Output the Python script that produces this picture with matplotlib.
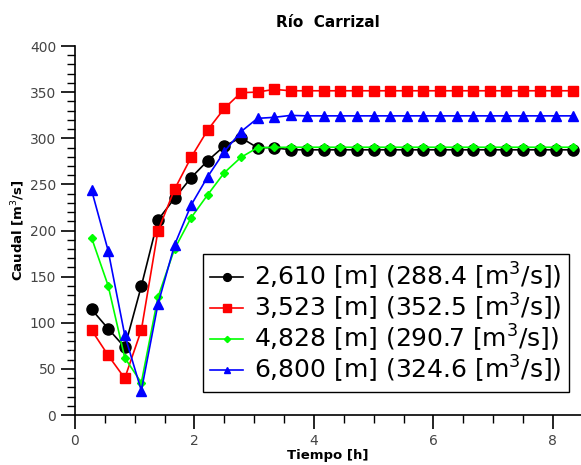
import numpy as np
import matplotlib
matplotlib.use("Agg")
import matplotlib.pyplot as plt
from matplotlib.ticker import MultipleLocator

# time steps of 1000 s, expressed in hours
steps = np.arange(1, 31)
t_hours = steps * 1000 / 3600.0

q_2610 = [114.6, 93.6, 73.4, 139.8, 211.4, 234.9, 257.3, 275.7, 291.6, 300.6,
          289.8, 289.8] + [287.5] * 18
q_3523 = [92.1, 64.7, 39.8, 92.1, 199.5, 244.6, 279.3, 309.0, 332.4, 349.4,
          350.1, 353.0] + [351.5] * 18
q_4828 = [192.2, 140.2, 62.1, 35.0, 127.6, 180.0, 213.9, 238.8, 262.7, 279.3,
          289.8, 290.1] + [290.3] * 18
q_6800 = [243.9, 178.2, 86.7, 26.4, 120.0, 184.3, 227.6, 258.4, 285.5, 307.1,
          321.6, 322.7, 324.8] + [324.3] * 17

labels = ["2,610 [m] (288.4 [m$^3$/s])",
          "3,523 [m] (352.5 [m$^3$/s])",
          "4,828 [m] (290.7 [m$^3$/s])",
          "6,800 [m] (324.6 [m$^3$/s])"]

fig = plt.figure(figsize=(5.81, 4.65), dpi=100)
ax = fig.add_axes([0.129, 0.1075, 0.871, 0.7935])

ax.plot(t_hours, q_2610, color="black", marker="o", ms=8, lw=1.2, label=labels[0])
ax.plot(t_hours, q_3523, color="red", marker="s", ms=7.5, lw=1.2, label=labels[1])
ax.plot(t_hours, q_4828, color="#00ff00", marker="D", ms=4.5, lw=1.2, label=labels[2])
ax.plot(t_hours, q_6800, color="blue", marker="^", ms=7, lw=1.2, label=labels[3])

ax.set_xlim(0, 8.47)
ax.set_ylim(0, 400)
ax.xaxis.set_major_locator(MultipleLocator(2))
ax.xaxis.set_minor_locator(MultipleLocator(0.5))
ax.yaxis.set_major_locator(MultipleLocator(50))
ax.yaxis.set_minor_locator(MultipleLocator(10))
ax.tick_params(which="major", length=10, width=1.2, direction="out",
               labelsize=10, labelcolor="#444444")
ax.tick_params(which="minor", length=6, width=1.0, direction="out")
ax.spines["top"].set_visible(False)
ax.spines["right"].set_visible(False)
ax.spines["left"].set_linewidth(1.2)
ax.spines["bottom"].set_linewidth(1.2)

ax.set_title("Río  Carrizal", fontsize=11, fontweight="bold", pad=14)
ax.set_xlabel("Tiempo [h]", fontsize=9.5, fontweight="bold", labelpad=1)
ax.set_ylabel("Caudal [m$^3$/s]", fontsize=9.5, fontweight="bold", labelpad=2)

leg = ax.legend(loc="lower right", bbox_to_anchor=(0.976, 0.062), borderaxespad=0,
                fontsize=18, markerscale=0.7, fancybox=False, framealpha=1,
                edgecolor="black", handlelength=1.3, borderpad=0.28,
                labelspacing=0.0, handletextpad=0.45)
leg.get_frame().set_linewidth(1.0)

fig.savefig("out.png", dpi=100)
